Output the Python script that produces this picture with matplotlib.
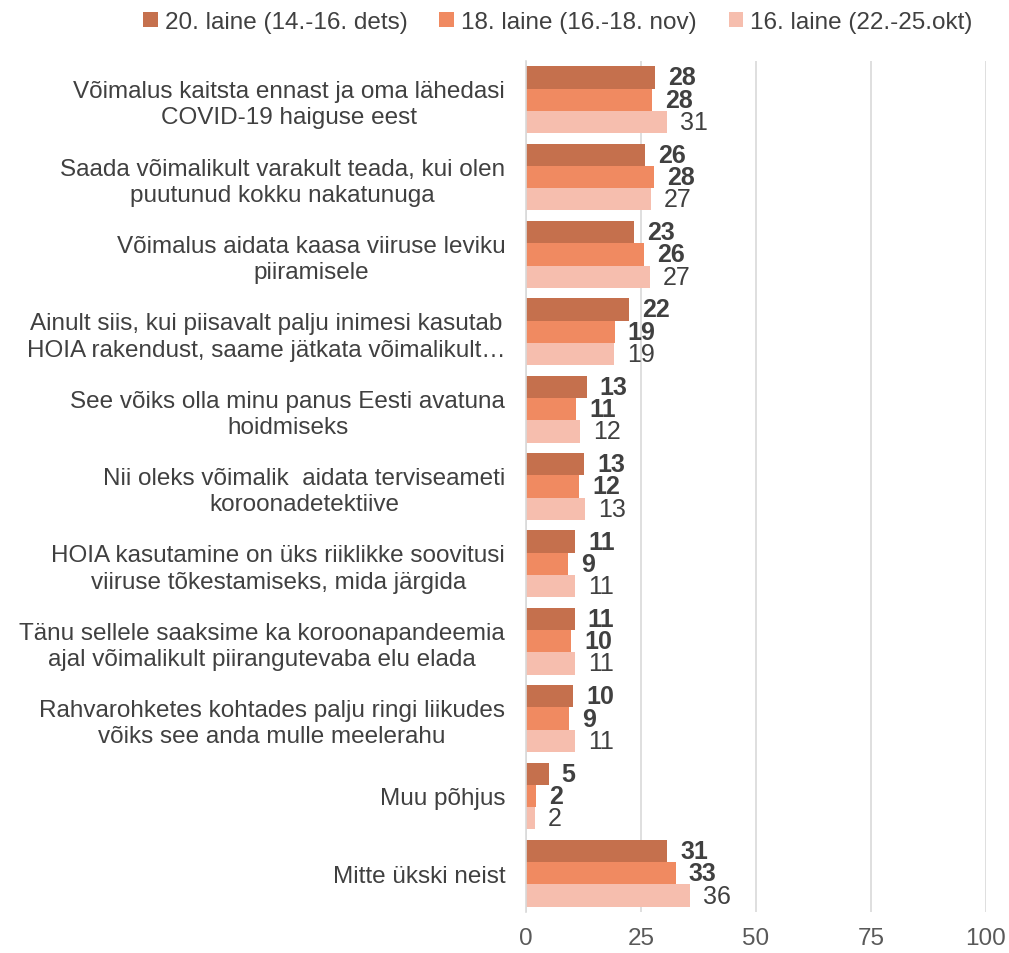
import matplotlib
matplotlib.use('Agg')
import matplotlib.pyplot as plt
import numpy as np

# ======================
# DATA
# ======================

categories = [
    'Võimalus kaitsta ennast ja oma lähedasi\nCOVID-19 haiguse eest',
    'Saada võimalikult varakult teada, kui olen\npuutunud kokku nakatunuga',
    'Võimalus aidata kaasa viiruse leviku\npiiramisele',
    'Ainult siis, kui piisavalt palju inimesi kasutab\nHOIA rakendust, saame jätkata võimalikult…',
    'See võiks olla minu panus Eesti avatuna\nhoidmiseks',
    'Nii oleks võimalik  aidata terviseameti\nkoroonadetektiive',
    'HOIA kasutamine on üks riiklikke soovitusi\nviiruse tõkestamiseks, mida järgida',
    'Tänu sellele saaksime ka koroonapandeemia\najal võimalikult piirangutevaba elu elada',
    'Rahvarohketes kohtades palju ringi liikudes\nvõiks see anda mulle meelerahu',
    'Muu põhjus',
    'Mitte ükski neist',
]

series_names = ['20. laine (14.-16. dets)', '18. laine (16.-18. nov)', '16. laine (22.-25.okt)']

wave20 = [28.0, 25.9, 23.4, 22.4, 13.2, 12.6, 10.7, 10.6, 10.3, 4.9, 30.7]
wave18 = [27.5, 27.8, 25.7, 19.3, 10.9, 11.5, 9.1, 9.8, 9.3, 2.1, 32.6]
wave16 = [30.6, 27.1, 27.0, 19.1, 11.7, 12.8, 10.6, 10.6, 10.7, 2.0, 35.6]

x_ticks = [0, 25, 50, 75, 100]

# ======================
# STYLE
# ======================

plt.rcParams['font.family'] = ['Liberation Sans', 'DejaVu Sans']
colors = ['#C5704D', '#F08A61', '#F6BEAE']
label_weights = ['bold', 'bold', 'normal']
text_color = '#404040'

# ======================
# PLOT
# ======================

fig = plt.figure(figsize=(10.09, 9.54), dpi=100)
ax = fig.add_axes([0.5213, 0.043, 0.4559, 0.892])

y = np.arange(len(categories))
h = 0.288
offsets = [-h, 0, h]

for values, name, color, off, weight in zip([wave20, wave18, wave16], series_names,
                                             colors, offsets, label_weights):
    bars = ax.barh(y + off, values, height=h, color=color, label=name)
    for b, v in zip(bars, values):
        ax.annotate('%d' % int(v + 0.5), xy=(b.get_width(), b.get_y() + b.get_height() / 2),
                    xytext=(13, 0), textcoords='offset pixels',
                    ha='left', va='center', fontsize=18, fontweight=weight, color=text_color)

ax.set_xlim(0, 100)
ax.set_ylim(len(categories) - 0.5, -0.5)
ax.set_xticks(x_ticks)
ax.set_yticks(y)
ax.set_yticklabels(categories)
for lbl in ax.get_yticklabels():
    lbl.set_multialignment('center')
    lbl.set_linespacing(1.25)

ax.tick_params(axis='y', length=0, pad=15, labelsize=17.5, labelcolor=text_color)
ax.tick_params(axis='x', length=0, pad=11, labelsize=17.5, labelcolor='#595959')

ax.grid(axis='x', color='#D9D9D9', linewidth=1.2)
ax.set_axisbelow(True)
for side in ['top', 'right', 'bottom']:
    ax.spines[side].set_visible(False)
ax.spines['left'].set_color('#D9D9D9')
ax.spines['left'].set_linewidth(1.2)

fig.legend(loc='center', bbox_to_anchor=(0.553, 0.976), ncol=3, frameon=False,
           fontsize=17.5, handlelength=0.6, handleheight=0.6, handletextpad=0.3,
           columnspacing=1.3, labelcolor=text_color)

plt.savefig('out.png', dpi=100)
